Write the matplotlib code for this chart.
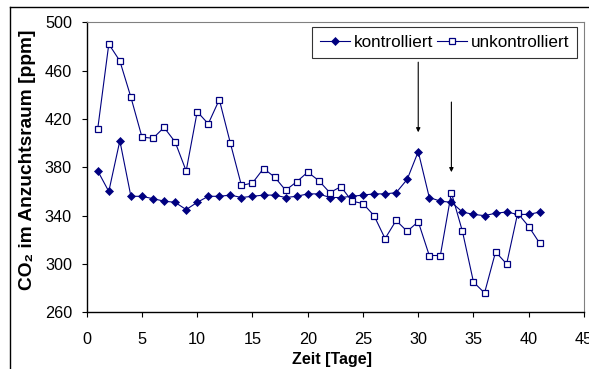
import matplotlib.pyplot as plt
from matplotlib.lines import Line2D

# CO2 readings per day
days = list(range(1, 42))
kontrolliert = [377, 360, 402, 356, 356, 354, 352, 351, 345, 351,
                356, 356, 357, 355, 356, 357, 357, 355, 356, 358,
                358, 355, 355, 356, 357, 358, 358, 359, 370, 393,
                355, 352, 351, 343, 341, 340, 342, 343, 341, 341, 343]
unkontrolliert = [412, 482, 468, 438, 405, 404, 413, 401, 377, 426,
                  416, 436, 400, 365, 367, 379, 372, 361, 368, 376,
                  369, 359, 364, 352, 350, 340, 321, 336, 327, 335,
                  307, 307, 359, 327, 285, 276, 310, 300, 342, 331, 317]
xticks = [0, 5, 10, 15, 20, 25, 30, 35, 40, 45]
yticks = [260, 300, 340, 380, 420, 460, 500]
# arrows: (day, start ppm, end ppm)
arrows = [(30, 467, 409), (33, 434, 376)]

NAVY = '#000080'
plt.rcParams['font.family'] = ['Liberation Sans', 'DejaVu Sans']

W, H = 589, 369
fig = plt.figure(figsize=(W / 100, H / 100), dpi=100)
ax = fig.add_axes([86.7 / W, 1 - 312.3 / H, (584 - 86.7) / W, (312.3 - 22.3) / H])

ax.plot(days, kontrolliert, color=NAVY, lw=0.8, marker='D', ms=4,
        mfc=NAVY, mec=NAVY, mew=0.5, label='kontrolliert')
ax.plot(days, unkontrolliert, color=NAVY, lw=0.8, marker='s', ms=4.2,
        mfc='white', mec=NAVY, mew=0.9, label='unkontrolliert')

for d, y0, y1 in arrows:
    ax.annotate('', xy=(d, y1), xytext=(d, y0),
                arrowprops=dict(arrowstyle='-|>', color='black', lw=0.8,
                                mutation_scale=6, shrinkA=0, shrinkB=0))

ax.set_xlim(0, 45)
ax.set_ylim(260, 500)
ax.set_xticks(xticks)
ax.set_yticks(yticks)
ax.tick_params(direction='out', length=3.6, width=0.8, labelsize=11.7)
ax.tick_params(axis='x', pad=10.3)
ax.tick_params(axis='y', pad=7)

for s in ['left', 'bottom']:
    ax.spines[s].set_color('black')
    ax.spines[s].set_linewidth(1)
for s in ['top', 'right']:
    ax.spines[s].set_color('#808080')
    ax.spines[s].set_linewidth(0.8)

fig.text(28 / W, 1 - 160 / H, 'CO₂ im Anzuchtsraum [ppm]', rotation=90,
         ha='center', va='center', fontsize=13.8, fontweight='bold')
fig.text(332 / W, 1 - 359.5 / H, 'Zeit [Tage]', ha='center', va='center',
         fontsize=11.5, fontweight='bold')

leg = ax.legend(loc='upper right', bbox_to_anchor=(577 / W, 1 - 27.3 / H),
                bbox_transform=fig.transFigure, ncol=2, fontsize=12.3,
                frameon=True, fancybox=False, edgecolor='black',
                handlelength=1.75, handletextpad=0.25, columnspacing=0.2,
                borderpad=0.45, borderaxespad=0)
leg.get_frame().set_linewidth(0.8)

# outer chart frame
fig.add_artist(Line2D([10 / W, 1], [1 - 7 / H, 1 - 7 / H], color='black', lw=1))
fig.add_artist(Line2D([10 / W, 10 / W], [0, 1 - 7 / H], color='black', lw=1))

fig.savefig('out.png', dpi=100)
